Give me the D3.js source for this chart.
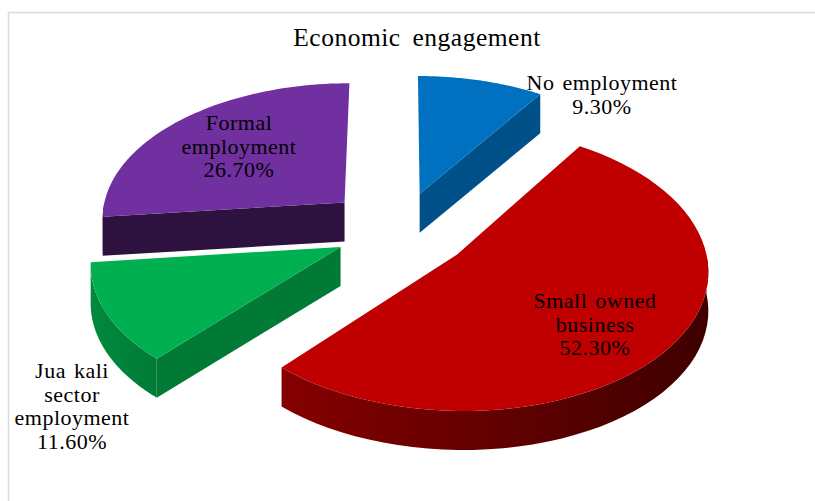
<!DOCTYPE html>
<html>
<head>
<meta charset="utf-8">
<script src="https://cdn.jsdelivr.net/npm/d3@7"></script>
<style>
  html, body { margin: 0; padding: 0; background: #fff; }
  svg { display: block; }
  text { font-family: "Liberation Serif", serif; fill: #000; text-anchor: middle; }
</style>
</head>
<body>
<div id="chart"></div>
<script>
// Economic engagement - exploded 3D pie

const categories = ["No employment", "Small owned business", "Jua kali sector employment", "Formal employment"];
const values = [9.3, 52.3, 11.6, 26.7];
const valueLabels = ["9.30%", "52.30%", "11.60%", "26.70%"];
const labelLines = [["No employment"], ["Small owned", "business"], ["Jua kali", "sector", "employment"], ["Formal", "employment"]];

const topColors = ["#0070c0", "#c00000", "#00b050", "#7030a0"];
const faceColors = ["#00518a", "#7d0000", "#007a35", "#2d1240"];
const wallLeft = ["#00518a", "#850000", "#008a3e", "#2d1240"];
const wallRight = ["#00518a", "#3f0000", "#007a35", "#2d1240"];

const explodeBy = [70, 71, 66, 76];
const labelX = [602, 595, 72, 239];
const labelY = [90, 308, 378, 130];

const width = 815, height = 501;

// pie plane -> screen
const cx = 400, cy = 230;
const radius = 245, depth = 39;
const tilt = 0.555, persp = 0.098;

function project(x, z, drop) {
  const s = 1 / (1 + (persp * z) / radius);
  return [cx + x * s, cy - tilt * z * s + (drop || 0)];
}

const svg = d3.select("#chart").append("svg").attr("width", width).attr("height", height);

// frame
svg.append("path")
  .attr("d", "M8.5,501V12.5H815")
  .attr("fill", "none")
  .attr("stroke", "#d9d9d9")
  .attr("stroke-width", 1.5);

svg.append("text")
  .attr("x", 417)
  .attr("y", 46)
  .style("font-size", "25.5px")
  .style("letter-spacing", "0.5px")
  .style("word-spacing", "5px")
  .text("Economic engagement");

const arcs = d3.pie().sort(null).value((d) => d)(values);
const line = d3.line();
const defs = svg.append("defs");

const parts = arcs.map((a, i) => {
  const mid = (a.startAngle + a.endAngle) / 2;
  const ox = Math.sin(mid) * explodeBy[i];
  const oz = Math.cos(mid) * explodeBy[i];
  const rim = (t) => [ox + radius * Math.sin(t), oz + radius * Math.cos(t)];
  const ts = d3.range(0, 61).map((k) => a.startAngle + ((a.endAngle - a.startAngle) * k) / 60);
  return { a, i, ox, oz, rim, ts };
});

// back to front
const order = [0, 3, 2, 1];

order.forEach((idx) => {
  const { a, i, ox, oz, rim, ts } = parts[idx];
  const g = svg.append("g").attr("class", "slice");

  defs.append("linearGradient")
    .attr("id", "wall" + i)
    .attr("x1", 0).attr("x2", 1).attr("y1", 0).attr("y2", 0)
    .selectAll("stop")
    .data([wallLeft[i], wallRight[i]])
    .join("stop")
    .attr("offset", (d, k) => k)
    .attr("stop-color", (d) => d);

  // outer wall, only the part that faces the viewer
  const front = ts.filter((t) => Math.cos(t) < 0.02).reverse();
  if (front.length > 1) {
    const topEdge = front.map((t) => project(...rim(t), 0));
    const lowEdge = front.slice().reverse().map((t) => project(...rim(t), depth));
    g.append("path")
      .attr("d", line(topEdge.concat(lowEdge)) + "Z")
      .attr("fill", `url(#wall${i})`);
  }

  // cut faces
  const drawFace = (t) => {
    const [rx, rz] = rim(t);
    const pts = [project(ox, oz, 0), project(rx, rz, 0), project(rx, rz, depth), project(ox, oz, depth)];
    g.append("path").attr("d", line(pts) + "Z").attr("fill", faceColors[i]);
  };
  if (Math.sin(a.startAngle) < -0.001) drawFace(a.startAngle);
  if (Math.sin(a.endAngle) > 0.001) drawFace(a.endAngle);

  // top
  const pts = [project(ox, oz, 0)].concat(ts.map((t) => project(...rim(t), 0)));
  g.append("path").attr("d", line(pts) + "Z").attr("fill", topColors[i]);
});

// labels
categories.forEach((c, i) => {
  const t = svg.append("text")
    .attr("class", "label")
    .style("font-size", "22px")
    .style("letter-spacing", "0.5px")
    .style("word-spacing", "2px");
  labelLines[i].concat(valueLabels[i]).forEach((l, k) => {
    t.append("tspan").attr("x", labelX[i]).attr("y", labelY[i] + k * 23.6).text(l);
  });
});
</script>
</body>
</html>
